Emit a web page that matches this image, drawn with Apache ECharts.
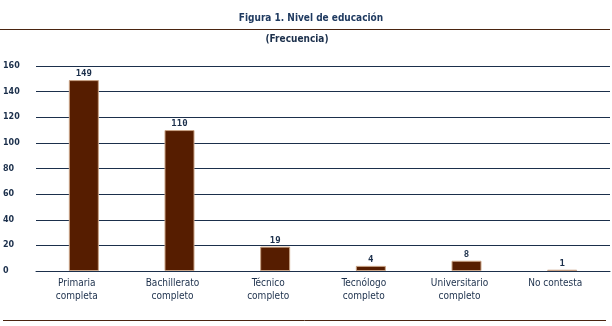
<!DOCTYPE html>
<html>
<head>
<meta charset="utf-8">
<script src="https://cdn.jsdelivr.net/npm/echarts@6/dist/echarts.min.js"></script>
<style>
  html, body { margin: 0; padding: 0; background: #ffffff; }
  #chart { width: 612px; height: 326px; }
</style>
</head>
<body>
<div id="chart"></div>
<script>
// Education level frequencies
const categories = ['Primaria\ncompleta', 'Bachillerato\ncompleto', 'Técnico\ncompleto', 'Tecnólogo\ncompleto', 'Universitario\ncompleto', 'No contesta'];
const frequencies = [149, 110, 19, 4, 8, 1];
const yTicks = [0, 20, 40, 60, 80, 100, 120, 140, 160];

const navy = '#1b2f4b';
const brown = '#561d00';

const chart = echarts.init(document.getElementById('chart'), null, { renderer: 'canvas' });
chart.setOption({
  animation: false,
  backgroundColor: '#ffffff',
  title: [
    {
      text: 'Figura 1. Nivel de educación',
      left: 306, top: 8, textAlign: 'center',
      textStyle: { fontFamily: 'DejaVu Sans Condensed', fontWeight: 'bold', fontSize: 10, color: '#1f3a60' }
    },
    {
      text: '(Frecuencia)',
      left: 292, top: 29, textAlign: 'center',
      textStyle: { fontFamily: 'DejaVu Sans Condensed', fontWeight: 'bold', fontSize: 10, color: navy }
    }
  ],
  graphic: [
    { type: 'line', shape: { x1: 0, y1: 29.5, x2: 610, y2: 29.5 }, style: { stroke: '#4a2410', lineWidth: 1 } },
    { type: 'line', shape: { x1: 3, y1: 320.5, x2: 606, y2: 320.5 }, style: { stroke: '#4a2410', lineWidth: 1 } }
  ],
  grid: { left: 36, right: 2, top: 66, bottom: 55, containLabel: false },
  xAxis: {
    type: 'category',
    data: categories,
    axisLine: { show: true, lineStyle: { color: navy, width: 1 } },
    axisTick: { show: false },
    axisLabel: {
      interval: 0, margin: 6, lineHeight: 13, padding: [0, 14, 0, 0],
      fontFamily: 'DejaVu Sans Condensed', fontSize: 10, color: navy
    }
  },
  yAxis: {
    type: 'value',
    min: yTicks[0], max: yTicks[yTicks.length - 1], interval: 20,
    axisLine: { show: false },
    axisTick: { show: false },
    splitLine: { lineStyle: { color: navy, width: 1 } },
    axisLabel: {
      align: 'left', margin: 33,
      fontFamily: 'DejaVu Sans', fontWeight: 'bold', fontSize: 8, color: navy
    }
  },
  series: [{
    type: 'bar',
    data: frequencies,
    barWidth: 30,
    itemStyle: { color: brown, borderColor: '#c9a385', borderWidth: 1 },
    label: {
      show: true, position: 'top', distance: 2,
      fontFamily: 'DejaVu Sans Mono', fontWeight: 'bold', fontSize: 9, color: navy
    }
  }]
});
</script>
</body>
</html>
